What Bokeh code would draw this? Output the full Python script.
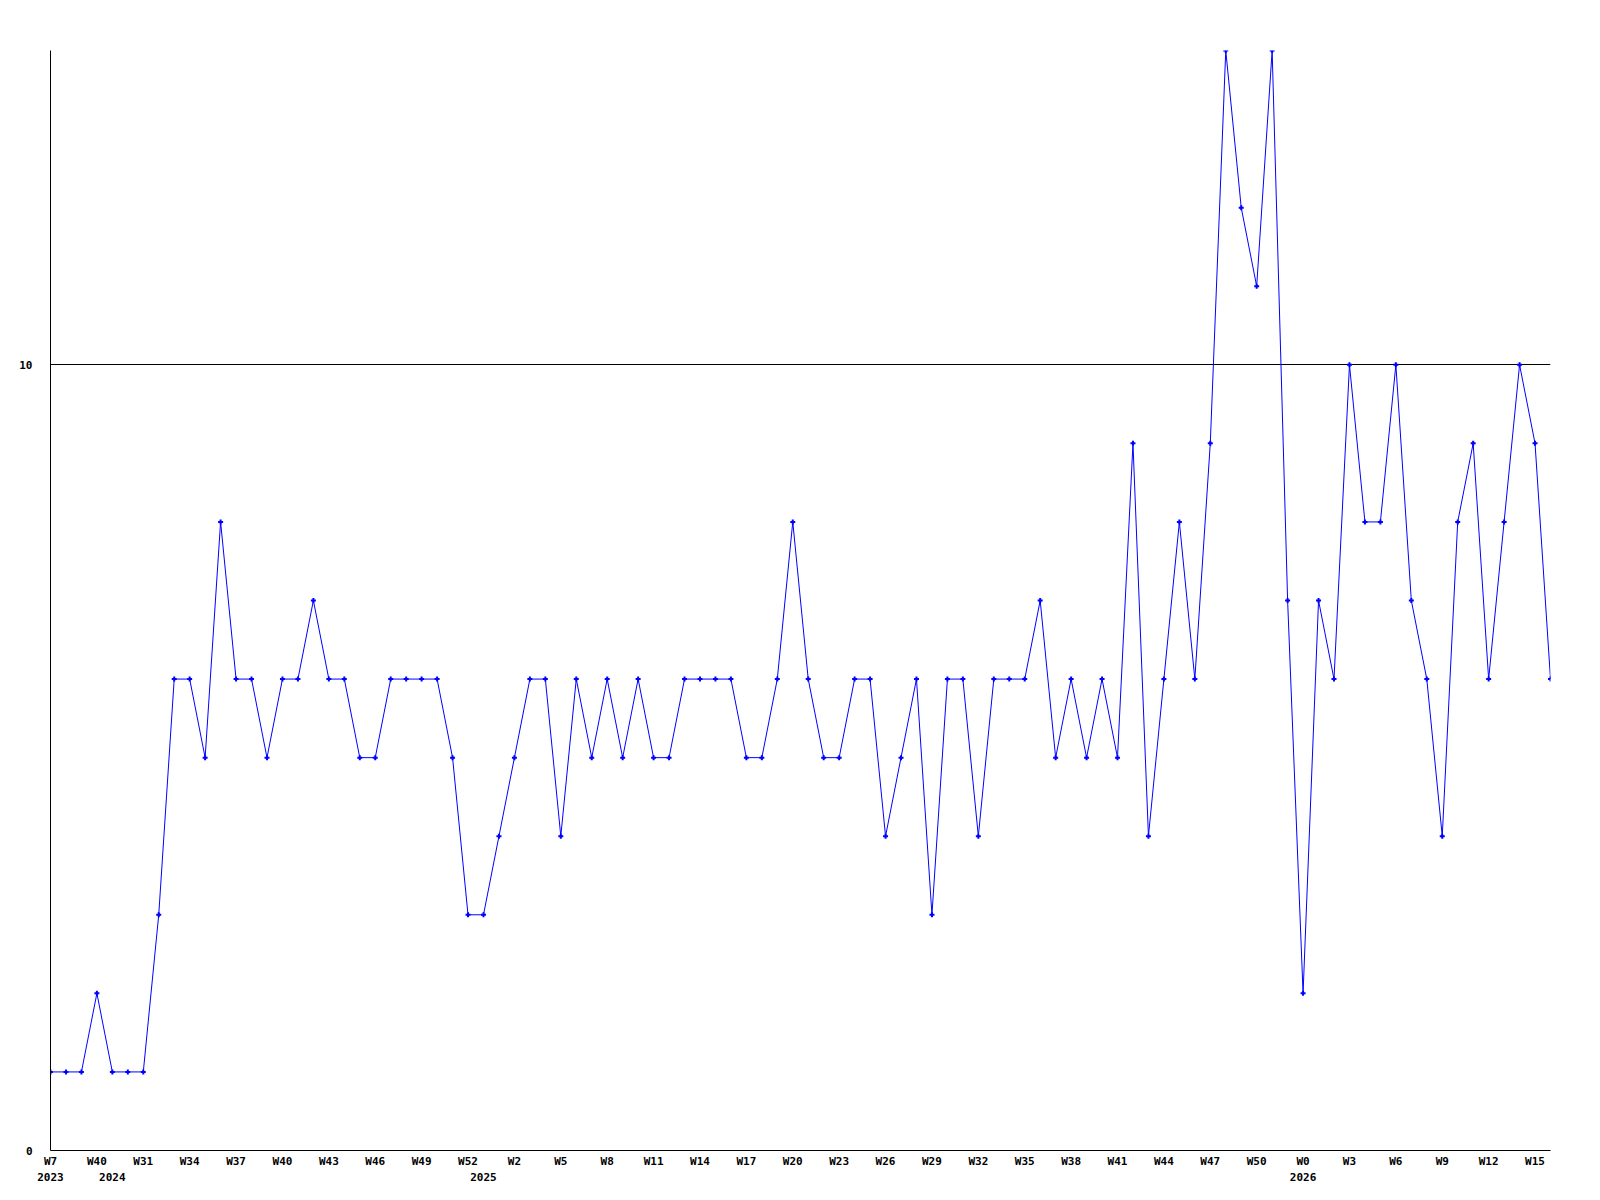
from bokeh.plotting import figure
from bokeh.models import Range1d, FixedTicker, LinearAxis, Grid
from bokeh.embed import file_html
from bokeh.resources import INLINE

values = [1, 1, 1, 2, 1, 1, 1, 3, 6, 6, 5, 8, 6, 6, 5, 6, 6, 7, 6, 6,
          5, 5, 6, 6, 6, 6, 5, 3, 3, 4, 5, 6, 6, 4, 6, 5, 6, 5, 6, 5,
          5, 6, 6, 6, 6, 5, 5, 6, 8, 6, 5, 5, 6, 6, 4, 5, 6, 3, 6, 6,
          4, 6, 6, 6, 7, 5, 6, 5, 6, 5, 9, 4, 6, 8, 6, 9, 14, 12, 11, 14,
          7, 2, 7, 6, 10, 8, 8, 10, 7, 6, 4, 8, 9, 6, 8, 10, 9, 6]

week_labels = ["W7", "W40", "W31", "W34", "W37", "W40", "W43", "W46", "W49", "W52",
               "W2", "W5", "W8", "W11", "W14", "W17", "W20", "W23", "W26", "W29",
               "W32", "W35", "W38", "W41", "W44", "W47", "W50", "W0", "W3", "W6",
               "W9", "W12", "W15"]
year_labels = ["2023", "2024", "2025", "2026"]
year_index = [0, 4, 28, 81]
y_ticks = [0, 10]

x = list(range(len(values)))
week_ticks = list(range(0, len(values), 3))

FONT = "DejaVu Sans Mono"

p = figure(output_backend="svg", toolbar_location=None,
           frame_width=1500, frame_height=1100,
           min_border_left=50, min_border_top=50, min_border_right=26, min_border_bottom=6,
           x_range=Range1d(0, len(values) - 1), y_range=Range1d(0, 14),
           x_axis_location=None, y_axis_location=None)
p.outline_line_color = None
p.background_fill_color = "white"
p.border_fill_color = "white"

def style(ax):
    ax.major_tick_line_color = None
    ax.minor_tick_line_color = None
    ax.major_label_text_font = FONT
    ax.major_label_text_font_style = "bold"
    ax.major_label_text_font_size = "11px"
    ax.major_label_text_color = "black"

# y axis
yax = LinearAxis(ticker=FixedTicker(ticks=y_ticks))
style(yax)
yax.axis_line_color = "black"
yax.major_label_standoff = 12
p.add_layout(yax, "left")

# x axis (weeks)
xax = LinearAxis(ticker=FixedTicker(ticks=week_ticks))
xax.major_label_overrides = {t: lab for t, lab in zip(week_ticks, week_labels)}
style(xax)
xax.axis_line_color = "black"
xax.major_label_standoff = -2
p.add_layout(xax, "below")

# x axis (years)
yrax = LinearAxis(ticker=FixedTicker(ticks=year_index))
yrax.major_label_overrides = {t: lab for t, lab in zip(year_index, year_labels)}
style(yrax)
yrax.axis_line_color = None
yrax.major_label_standoff = -4
p.add_layout(yrax, "below")

p.xgrid.visible = False
p.ygrid.visible = False
g = Grid(dimension=1, ticker=FixedTicker(ticks=[10]), grid_line_color="black", grid_line_width=1)
p.add_layout(g)

p.line(x, values, line_color="#0000ff", line_width=1)
p.scatter(x, values, marker="cross", size=5, line_color="#0000ff", line_width=2)

open("out.html", "w").write(file_html(p, INLINE))
